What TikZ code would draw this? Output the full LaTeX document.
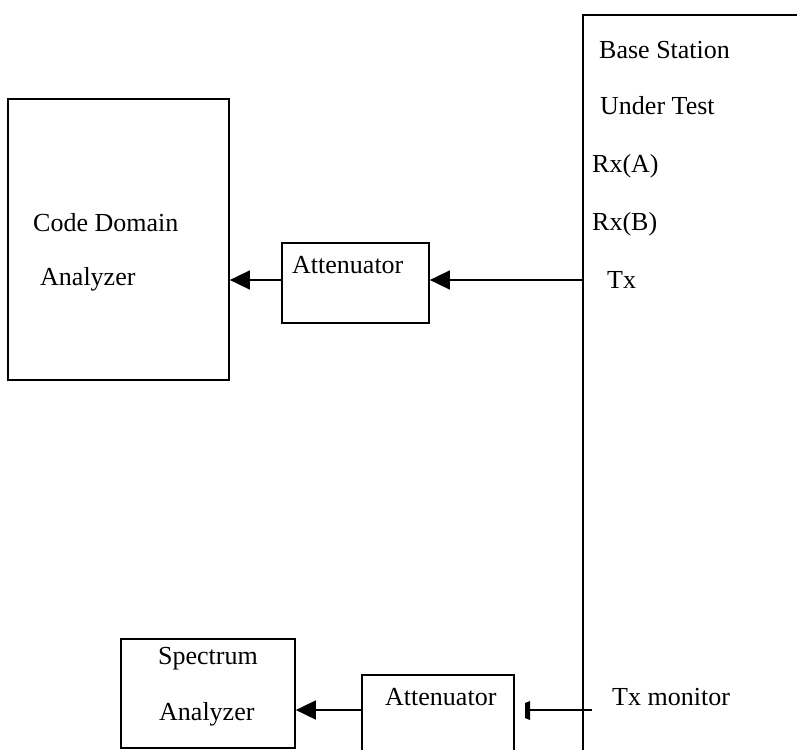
\documentclass[tikz,border=0pt]{standalone}
\usepackage{fontspec}
\setmainfont{Liberation Serif}
\usetikzlibrary{arrows.meta}
\begin{document}
\begin{tikzpicture}[x=1pt,y=-1pt,
  box/.style={draw,line width=1.7pt,rectangle,inner sep=0pt},
  lbl/.style={anchor=base west,inner sep=0pt,font=\fontsize{26}{30}\selectfont},
  wire/.style={line width=1.7pt},
  arr/.style={wire,-{Triangle[length=20pt,width=19pt]}}]
\useasboundingbox (0,0) rectangle (797,749);
\fill[white] (0,0) rectangle (797,749);
\clip (0,0) rectangle (797,749);
% boxes
\node[box,minimum width=221pt,minimum height=281pt] (cda) at (118.5,239.5) {};
\node[box,minimum width=147pt,minimum height=80pt] (att1) at (355.5,283) {};
\node[box,minimum width=174pt,minimum height=109pt] (spec) at (208,693.5) {};
\node[box,minimum width=152pt,minimum height=100pt] (att2) at (438,725) {};
\node[box,minimum width=260pt,minimum height=800pt] (bs) at (713,415) {};
% labels
\node[lbl] (t1) at (599,59) {Base Station};
\node[lbl] (t2) at (600,114) {Under Test};
\node[lbl] (t3) at (592,172) {Rx(A)};
\node[lbl] (t4) at (592,230) {Rx(B)};
\node[lbl] (t5) at (607,288) {Tx};
\node[lbl] (t6) at (612,705) {Tx monitor};
\node[lbl] (c1) at (33,231) {Code Domain};
\node[lbl] (c2) at (40,285) {Analyzer};
\node[lbl] (a1) at (292,273) {Attenuator};
\node[lbl] (s1) at (158,664) {Spectrum};
\node[lbl] (s2) at (159,720) {Analyzer};
\node[lbl] (a2) at (385,705) {Attenuator};
% connectors
\coordinate (tx) at (583,280);
\coordinate (txm) at (592,710);
\coordinate (stub) at (530,710);
\draw[arr] (tx) -- (tx -| att1.east);
\draw[arr] (tx -| att1.west) -- (tx -| cda.east);
\draw[wire] (txm) -- (stub);
\fill (525,703) .. controls (524.5,710) .. (525,718) -- (530,720) -- (530,701) -- cycle;
\draw[arr] (txm -| att2.west) -- (txm -| spec.east);
\end{tikzpicture}
\end{document}
